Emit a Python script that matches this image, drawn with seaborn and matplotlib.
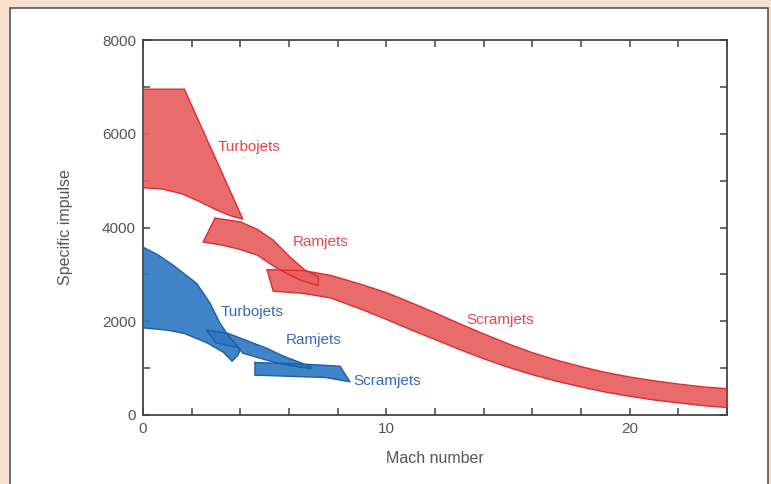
import numpy as np
import matplotlib
matplotlib.use("Agg")
import matplotlib.pyplot as plt
from matplotlib.patches import Rectangle
import seaborn as sns

sns.set_theme(style="ticks")
plt.rcParams['font.family'] = ['Liberation Sans', 'DejaVu Sans']

# red bands (hydrogen) - upper and lower edges, specific impulse in s
red_turbo_xt = [0, 1.7, 4.1]
red_turbo_yt = [6950, 6950, 4180]
red_turbo_xb = [0, 0.8, 1.6, 2.3, 3.0, 3.6, 4.1]
red_turbo_yb = [4850, 4820, 4720, 4560, 4380, 4250, 4180]

red_ram_xt = [2.96, 4.0, 4.7, 5.35, 6.04, 6.66, 7.2]
red_ram_yt = [4200, 4120, 3960, 3730, 3370, 3090, 2950]
red_ram_xb = [2.47, 3.3, 4.0, 4.7, 5.5, 6.45, 7.2]
red_ram_yb = [3690, 3620, 3530, 3410, 3130, 2880, 2760]

red_scram_xt = [5.1, 6.6, 7.7, 9, 10, 11, 12, 13, 14, 15, 16, 17, 18, 19, 20, 21, 22, 23, 24]
red_scram_yt = [3100, 3080, 2980, 2780, 2610, 2400, 2180, 1950, 1730, 1520, 1330,
                1170, 1030, 910, 810, 730, 660, 600, 560]
red_scram_xb = [5.35, 6.5, 7.7, 9, 10, 11, 12, 13, 14, 15, 16, 17, 18, 19, 20, 21, 22, 23, 24]
red_scram_yb = [2640, 2600, 2500, 2250, 2040, 1820, 1610, 1400, 1200, 1020, 860,
                720, 600, 490, 400, 320, 260, 200, 160]

# blue bands (hydrocarbon)
blue_turbo_xt = [0, 0.6, 1.23, 1.8, 2.2, 2.75, 3.16, 3.5, 4.0, 3.9, 3.66]
blue_turbo_yt = [3580, 3420, 3200, 2970, 2810, 2390, 1960, 1700, 1400, 1270, 1150]
blue_turbo_xb = [0, 1.0, 1.7, 2.63, 3.3, 3.66]
blue_turbo_yb = [1860, 1810, 1740, 1540, 1340, 1150]

blue_ram_xt = [2.6, 3.5, 4.4, 5.1, 5.75, 6.9]
blue_ram_yt = [1810, 1740, 1560, 1420, 1260, 1030]
blue_ram_xb = [3.0, 3.9, 4.1, 5.35, 6.1, 6.9]
blue_ram_yb = [1540, 1440, 1320, 1130, 1050, 990]

blue_scram_xt = [4.6, 6.8, 8.1, 8.5]
blue_scram_yt = [1120, 1080, 1040, 710]
blue_scram_xb = [4.6, 7.5, 8.5]
blue_scram_yb = [850, 800, 710]

labels = ["Turbojets", "Ramjets", "Scramjets"]
red_lab_x = [3.05, 6.15, 13.3]
red_lab_y = [5720, 3700, 2030]
blue_lab_x = [3.2, 5.85, 8.65]
blue_lab_y = [2200, 1600, 720]

RED_FILL, RED_EDGE, RED_TXT = '#e8605f', '#e02a2c', '#e8474a'
BLUE_FILL, BLUE_EDGE, BLUE_TXT = '#2f78c2', '#1d5ea8', '#3a68bd'


def band(ax, xt, yt, xb, yb, fc, ec):
    px = list(xt) + list(xb)[::-1]
    py = list(yt) + list(yb)[::-1]
    ax.fill(px, py, facecolor=fc, edgecolor='none', alpha=0.92, zorder=2)
    ax.plot(px + [px[0]], py + [py[0]], color=ec, lw=1.0, zorder=3,
            solid_joinstyle='round')


fig = plt.figure(figsize=(7.71, 4.84), dpi=100)
fig.patch.set_facecolor('#f8e0cf')
fig.add_artist(Rectangle((10 / 771, -0.05), 758 / 771, 1.05 - 8 / 484,
                         transform=fig.transFigure, facecolor='white',
                         edgecolor='#555555', lw=1.2, zorder=0))
ax = fig.add_axes([143 / 771, 69 / 484, 584 / 771, 375 / 484])
ax.set_facecolor('white')

band(ax, red_scram_xt, red_scram_yt, red_scram_xb, red_scram_yb, RED_FILL, RED_EDGE)
band(ax, red_ram_xt, red_ram_yt, red_ram_xb, red_ram_yb, RED_FILL, RED_EDGE)
band(ax, red_turbo_xt, red_turbo_yt, red_turbo_xb, red_turbo_yb, RED_FILL, RED_EDGE)
band(ax, blue_scram_xt, blue_scram_yt, blue_scram_xb, blue_scram_yb, BLUE_FILL, BLUE_EDGE)
band(ax, blue_ram_xt, blue_ram_yt, blue_ram_xb, blue_ram_yb, BLUE_FILL, BLUE_EDGE)
band(ax, blue_turbo_xt, blue_turbo_yt, blue_turbo_xb, blue_turbo_yb, BLUE_FILL, BLUE_EDGE)

for lab, x, y in zip(labels, red_lab_x, red_lab_y):
    ax.text(x, y, lab, color=RED_TXT, fontsize=11, va='center', ha='left', zorder=4)
for lab, x, y in zip(labels, blue_lab_x, blue_lab_y):
    ax.text(x, y, lab, color=BLUE_TXT, fontsize=11, va='center', ha='left', zorder=4)

ax.set_xlim(0, 24)
ax.set_ylim(0, 8000)
ax.set_xticks(np.arange(0, 25, 2))
ax.set_xticklabels([str(int(v)) if v % 10 == 0 else '' for v in np.arange(0, 25, 2)])
ax.set_yticks(np.arange(0, 8001, 1000))
ax.set_yticklabels([str(int(v)) if v % 2000 == 0 else '' for v in np.arange(0, 8001, 1000)])
ax.tick_params(direction='in', length=5, width=1.1, color='#444444',
               labelcolor='#555555', labelsize=11, top=True, right=True, pad=5)
for s in ax.spines.values():
    s.set_color('#444444')
    s.set_linewidth(1.3)
ax.set_xlabel('Mach number', fontsize=11.5, color='#555555', labelpad=11)
ax.set_ylabel('Specific impulse', fontsize=11.5, color='#555555', labelpad=21)

fig.savefig('out.png', dpi=100, facecolor=fig.get_facecolor())
